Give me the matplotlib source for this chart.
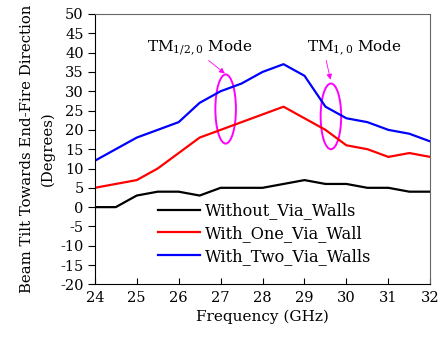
import matplotlib
matplotlib.use("Agg")
import matplotlib.pyplot as plt
from matplotlib.patches import Ellipse

plt.rcParams['font.family'] = ['DejaVu Serif']
plt.rcParams['mathtext.fontset'] = 'dejavuserif'
plt.rcParams['axes.unicode_minus'] = False

# Data
freq = [24, 24.5, 25, 25.5, 26, 26.5, 27, 27.5, 28, 28.5, 29, 29.5, 30, 30.5, 31, 31.5, 32]
without_walls = [0, 0, 3, 4, 4, 3, 5, 5, 5, 6, 7, 6, 6, 5, 5, 4, 4]
one_wall = [5, 6, 7, 10, 14, 18, 20, 22, 24, 26, 23, 20, 16, 15, 13, 14, 13]
two_walls = [12, 15, 18, 20, 22, 27, 30, 32, 35, 37, 34, 26, 23, 22, 20, 19, 17]
labels = ["Without_Via_Walls", "With_One_Via_Wall", "With_Two_Via_Walls"]
xticks = [24, 25, 26, 27, 28, 29, 30, 31, 32]
yticks = list(range(-20, 51, 5))

fig = plt.figure(figsize=(4.45, 3.41), dpi=100)
ax = fig.add_axes([0.213, 0.166, 0.754, 0.793])

ax.plot(freq, without_walls, color="black", lw=1.6, label=labels[0])
ax.plot(freq, one_wall, color="red", lw=1.6, label=labels[1])
ax.plot(freq, two_walls, color="blue", lw=1.6, label=labels[2])

# Mode ellipses
ax.add_patch(Ellipse((27.12, 25.4), 0.49, 17.9, fill=False, ec="#ff00ff", lw=1.4))
ax.add_patch(Ellipse((29.63, 23.5), 0.49, 17.0, fill=False, ec="#ff00ff", lw=1.4))

ax.annotate(r"TM$_{1/2,0}$ Mode", xy=(27.1, 34.6), xytext=(25.25, 41.2),
            fontsize=11, va="center", ha="left",
            arrowprops=dict(arrowstyle="-|>", color="#ff00ff", lw=0.6,
                            shrinkA=0, shrinkB=0, mutation_scale=8,
                            relpos=(0.55, 0.0)))
ax.annotate(r"TM$_{1,0}$ Mode", xy=(29.62, 33.0), xytext=(29.05, 41.2),
            fontsize=11, va="center", ha="left",
            arrowprops=dict(arrowstyle="-|>", color="#ff00ff", lw=0.6,
                            shrinkA=0, shrinkB=0, mutation_scale=8,
                            relpos=(0.2, 0.0)))

ax.set_xlim(24, 32)
ax.set_ylim(-20, 50)
ax.set_xticks(xticks)
ax.set_yticks(yticks)
ax.tick_params(axis="x", direction="in", length=4, labelsize=10.5, pad=5)
ax.tick_params(axis="y", direction="out", length=5, labelsize=10.5, pad=3)
ax.spines["top"].set_color("#666666")
ax.spines["right"].set_color("#666666")

ax.set_xlabel("Frequency (GHz)", fontsize=11, labelpad=3)
ax.set_ylabel("Beam Tilt Towards End-Fire Direction\n(Degrees)", fontsize=10.7,
              linespacing=1.55, labelpad=4)

ax.legend(loc="center left", bbox_to_anchor=(0.188, 0.188), frameon=False,
          fontsize=11.6, handlelength=2.6, handletextpad=0.3, labelspacing=0.35,
          borderaxespad=0, borderpad=0)

fig.savefig("out.png", dpi=100)
